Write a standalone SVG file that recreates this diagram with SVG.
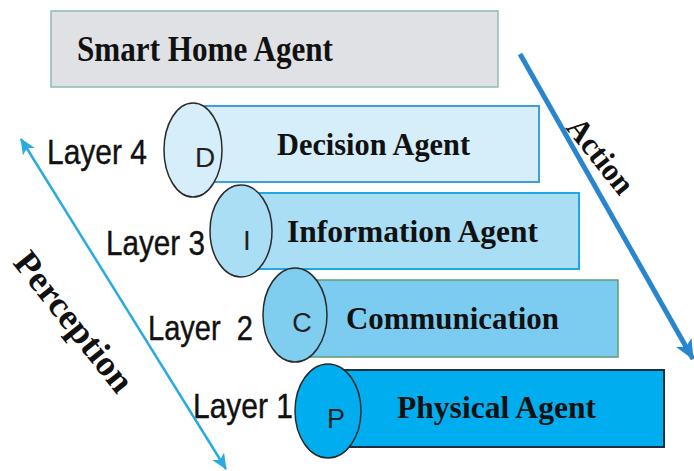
<svg xmlns="http://www.w3.org/2000/svg" width="694" height="471" viewBox="0 0 694 471">
  <defs>
    <marker id="headThin" viewBox="0 0 16 14" refX="15" refY="7" markerWidth="16" markerHeight="14" markerUnits="userSpaceOnUse" orient="auto-start-reverse">
      <path d="M0,0 L16,7 L0,14 L4,7 Z" fill="#29abe2"/>
    </marker>
    <marker id="headBold" viewBox="0 0 20 18" refX="19" refY="9" markerWidth="20" markerHeight="18" markerUnits="userSpaceOnUse" orient="auto">
      <path d="M0,0 L20,9 L0,18 L5,9 Z" fill="#2a86cc"/>
    </marker>
    <style>
      .title { font-family: "Liberation Serif", "Times New Roman", serif; font-weight: bold; fill: #111; }
      .layer { font-family: "Liberation Sans", Arial, sans-serif; fill: #111; stroke: #111; stroke-width: 0.4; }
      .tag { font-family: "Liberation Sans", Arial, sans-serif; fill: #222; text-anchor: middle; }
      .disc { stroke: #2a2a2a; stroke-width: 1.5; }
    </style>
  </defs>

  <rect width="694" height="471" fill="#ffffff"/>

  <!-- top-level agent -->
  <g id="smart-home">
    <rect x="51" y="11" width="447" height="76" fill="#dfe1e5" stroke="#8fbcb4" stroke-width="1.5"/>
    <text class="title" x="77" y="61" font-size="35" textLength="256" lengthAdjust="spacingAndGlyphs">Smart Home Agent</text>
  </g>

  <!-- layer 4 -->
  <g id="decision">
    <rect x="193" y="106" width="346" height="76" fill="#d5eef9" stroke="#3f9ee0" stroke-width="2"/>
    <ellipse class="disc" cx="193" cy="150" rx="29" ry="47" fill="#d5eef9"/>
    <text class="tag" x="205" y="167" font-size="28">D</text>
    <text class="title" x="277" y="155" font-size="31" textLength="193" lengthAdjust="spacingAndGlyphs">Decision Agent</text>
    <text class="layer" x="47" y="164" font-size="35" textLength="100" lengthAdjust="spacingAndGlyphs">Layer 4</text>
  </g>

  <!-- layer 3 -->
  <g id="information">
    <rect x="241" y="193" width="338" height="76" fill="#a9def4" stroke="#1fa8e8" stroke-width="2"/>
    <ellipse class="disc" cx="241" cy="231" rx="31" ry="46" fill="#a9def4"/>
    <text class="tag" x="247" y="250" font-size="28">I</text>
    <text class="title" x="287" y="242" font-size="31" textLength="251" lengthAdjust="spacingAndGlyphs">Information Agent</text>
    <text class="layer" x="106" y="255" font-size="35" textLength="99" lengthAdjust="spacingAndGlyphs">Layer 3</text>
  </g>

  <!-- layer 2 -->
  <g id="communication">
    <rect x="295" y="280" width="323" height="77" fill="#7bccf0" stroke="#5c9e6e" stroke-width="1.5"/>
    <ellipse class="disc" cx="295" cy="315" rx="32" ry="47" fill="#7fcdef"/>
    <text class="tag" x="302" y="332" font-size="27">C</text>
    <text class="title" x="346" y="329" font-size="32" textLength="213" lengthAdjust="spacingAndGlyphs">Communication</text>
    <text class="layer" x="148" y="340" font-size="35" textLength="105" lengthAdjust="spacingAndGlyphs" xml:space="preserve">Layer  2</text>
  </g>

  <!-- layer 1 -->
  <g id="physical">
    <rect x="328" y="370" width="336" height="77" fill="#00aeef" stroke="#1a2f3f" stroke-width="2"/>
    <ellipse class="disc" cx="328" cy="411" rx="33" ry="47" fill="#00aeef"/>
    <text class="tag" x="336" y="428" font-size="27">P</text>
    <text class="title" x="397" y="418" font-size="32" textLength="199" lengthAdjust="spacingAndGlyphs">Physical Agent</text>
    <text class="layer" x="193" y="418" font-size="35" textLength="100" lengthAdjust="spacingAndGlyphs">Layer 1</text>
  </g>

  <!-- flow arrows -->
  <g id="connectors">
    <line x1="21" y1="139" x2="226" y2="469" stroke="#29abe2" stroke-width="2.5" marker-start="url(#headThin)" marker-end="url(#headThin)"/>
    <line x1="520" y1="54" x2="693" y2="359" stroke="#2a86cc" stroke-width="5" marker-end="url(#headBold)"/>
    <text class="title" font-size="36" textLength="169" lengthAdjust="spacingAndGlyphs" transform="translate(12,263) rotate(51.5)">Perception</text>
    <text class="title" font-size="32" textLength="88" lengthAdjust="spacingAndGlyphs" transform="translate(565,128) rotate(51.5)">Action</text>
  </g>
</svg>
